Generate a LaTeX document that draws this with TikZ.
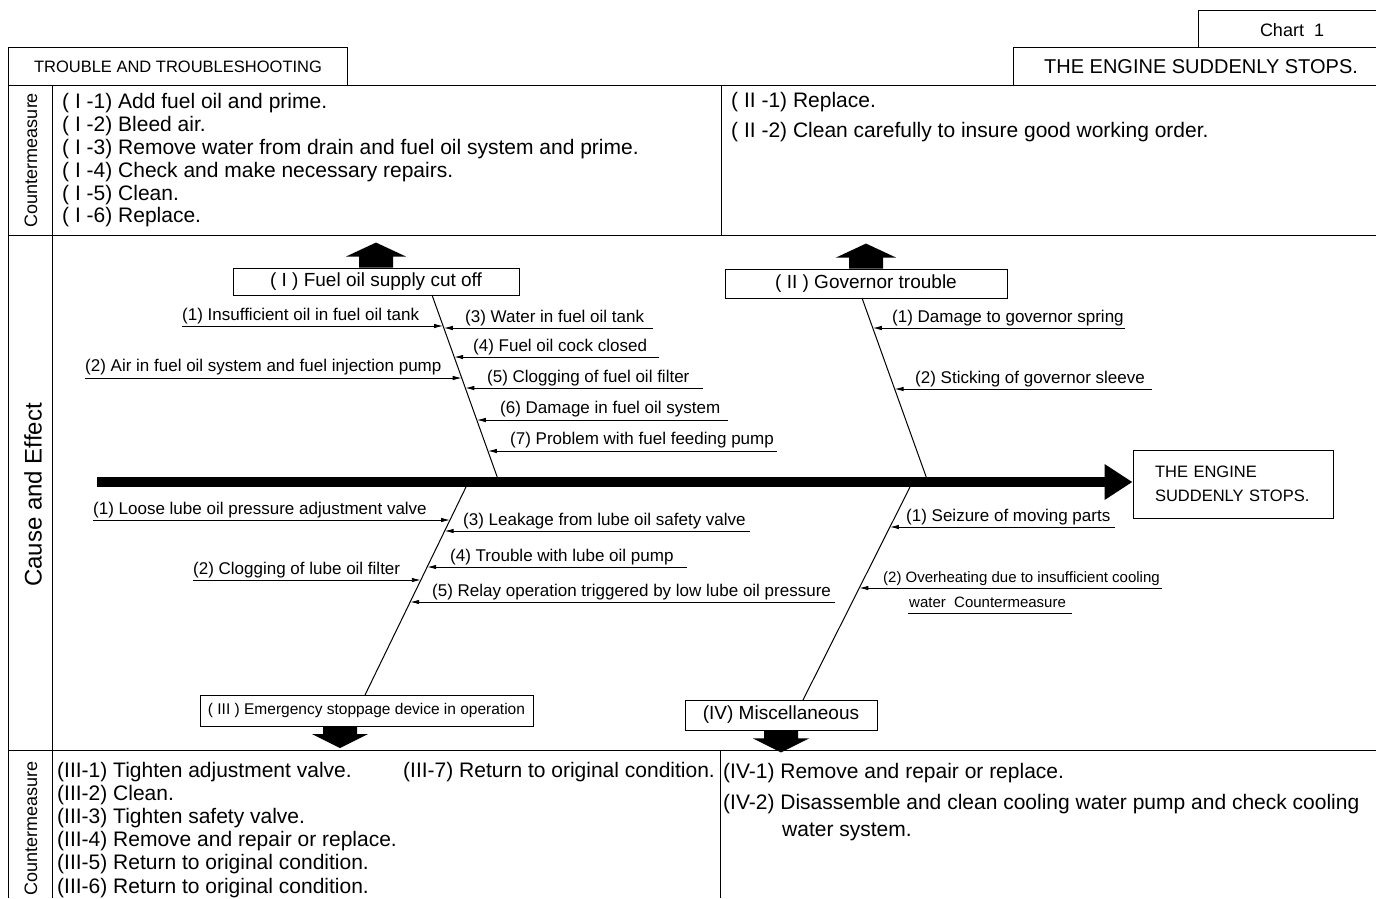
\documentclass[tikz,border=0pt]{standalone}
\usepackage{fontspec}
\setmainfont{Liberation Sans}
\usetikzlibrary{arrows.meta,calc}

\begin{document}
\begin{tikzpicture}[
    x=1pt, y=-1pt,
    >={Latex[length=9pt,width=4.5pt]},
    frame/.style={line width=1pt},
    tab/.style={inner sep=0pt, font=\fontsize{17}{20}\selectfont},
    side/.style={rotate=90, inner sep=0pt},
    measure/.style={
      anchor=base west,
      inner sep=0pt,
      font=\fontsize{21}{23}\selectfont
    },
    group/.style={
      draw,
      line width=0.9pt,
      inner sep=0pt,
      font=\fontsize{19}{22}\selectfont
    },
    cause/.style={
      anchor=base west,
      inner sep=0pt,
      font=\fontsize{17}{19}\selectfont
    },
    bone/.style={line width=1pt},
    twig/.style={->, line width=0.9pt},
    spine/.style={-{Triangle[length=28pt,width=34pt]}, line width=10pt}
  ]

  \useasboundingbox (0,0) rectangle (1376,898);
  \fill[white] (0,0) rectangle (1376,898);

  % ========== Frame ==========
  \draw[frame] (8,898) -- (8,47) -- (347,47) -- (347,85);
  \draw[frame] (1013,85) -- (1013,47) -- (1376,47);
  \draw[frame] (1198,47) -- (1198,10) -- (1376,10);
  \draw[frame] (8,85) -- (1376,85);
  \draw[frame] (8,235) -- (1376,235);
  \draw[frame] (8,750) -- (1376,750);
  \draw[frame] (52,85) -- (52,898);
  \draw[frame] (721,85) -- (721,235);
  \draw[frame] (720,750) -- (720,898);

  \node[tab,font=\fontsize{18}{20}\selectfont] (chart) at (1292,30) {Chart\ \ 1};
  \node[tab,font=\fontsize{16.5}{20}\selectfont] (title) at (178,67)
    {TROUBLE AND TROUBLESHOOTING};
  \node[tab,font=\fontsize{20}{22}\selectfont] (trouble) at (1201,67)
    {THE ENGINE SUDDENLY STOPS.};

  \node[side,font=\fontsize{18}{20}\selectfont] (cmtop) at (31,160) {Countermeasure};
  \node[side,font=\fontsize{24}{26}\selectfont] (ce) at (33,495) {Cause and Effect};
  \node[side,font=\fontsize{18}{20}\selectfont] (cmbot) at (31,828) {Countermeasure};

  % ========== Countermeasure (top) ==========
  \node[measure] (m11) at (62,108) {( I -1) Add fuel oil and prime.};
  \node[measure] (m12) at (62,131) {( I -2) Bleed air.};
  \node[measure] (m13) at (62,154) {( I -3) Remove water from drain and fuel oil system and prime.};
  \node[measure] (m14) at (62,177) {( I -4) Check and make necessary repairs.};
  \node[measure] (m15) at (62,200) {( I -5) Clean.};
  \node[measure] (m16) at (62,222) {( I -6) Replace.};

  \node[measure] (m21) at (731,107) {( II -1) Replace.};
  \node[measure] (m22) at (731,137) {( II -2) Clean carefully to insure good working order.};

  % ========== Cause and Effect ==========
  \node[group,minimum width=286pt,minimum height=27pt] (gI) at (376,281.5)
    {( I ) Fuel oil supply cut off};
  \node[group,minimum width=282pt,minimum height=29pt] (gII) at (866,283.5)
    {( II ) Governor trouble};
  \node[group,minimum width=333pt,minimum height=31pt,
    font=\fontsize{15.5}{18}\selectfont] (gIII) at (366.5,710.5)
    {( III ) Emergency stoppage device in operation};
  \node[group,minimum width=192pt,minimum height=30pt] (gIV) at (781,715)
    {(IV) Miscellaneous};

  \node[draw,line width=1pt,minimum width=200pt,minimum height=68pt,
    text width=156pt,inner xsep=22pt,align=left,
    font=\fontsize{16.5}{24}\selectfont] (eff) at (1233,484)
    {THE ENGINE\\SUDDENLY STOPS.};

  % block arrows
  \coordinate (aIII) at (340,726);
  \fill (gI.north) ++(-17,0) -- ++(0,-11) -- ++(-13,0) -- ++(30,-14)
    -- ++(30,14) -- ++(-13,0) -- ++(0,11) -- cycle;
  \fill (gII.north) ++(-17,0) -- ++(0,-11) -- ++(-13,0) -- ++(30,-14)
    -- ++(30,14) -- ++(-13,0) -- ++(0,11) -- cycle;
  \fill (aIII) ++(-17,0) -- ++(0,8) -- ++(-11,0) -- ++(28,14)
    -- ++(28,-14) -- ++(-11,0) -- ++(0,-8) -- cycle;
  \fill (gIV.south) ++(-17,0) -- ++(0,8) -- ++(-11,0) -- ++(28,14)
    -- ++(28,-14) -- ++(-11,0) -- ++(0,-8) -- cycle;

  % spine
  \coordinate (tail) at (97,482);
  \draw[spine] (tail) -- (tail -| eff.west);

  % bones
  \coordinate (bIa) at (432,295);
  \coordinate (bIb) at (499,482);
  \coordinate (bIIa) at (862,298);
  \coordinate (bIIb) at (928,482);
  \coordinate (bIIIa) at (466,487);
  \coordinate (bIIIb) at (365,695);
  \coordinate (bIVa) at (910,487);
  \coordinate (bIVb) at (803,700);
  \draw[bone] (bIa) -- (bIb);
  \draw[bone] (bIIa) -- (bIIb);
  \draw[bone] (bIIIa) -- (bIIIb);
  \draw[bone] (bIVa) -- (bIVb);

  % group I
  \coordinate (sI1) at (182,326);  \coordinate (eI1) at (443.1,326);
  \coordinate (sI2) at (85,378);   \coordinate (eI2) at (461.7,378);
  \coordinate (sI3) at (653,328);  \coordinate (eI3) at (443.8,328);
  \coordinate (sI4) at (659,357);  \coordinate (eI4) at (454.2,357);
  \coordinate (sI5) at (703,388);  \coordinate (eI5) at (465.3,388);
  \coordinate (sI6) at (728,420);  \coordinate (eI6) at (476.8,420);
  \coordinate (sI7) at (777,451);  \coordinate (eI7) at (487.9,451);
  \draw[twig] (sI1) -- (eI1);
  \draw[twig] (sI2) -- (eI2);
  \draw[twig] (sI3) -- (eI3);
  \draw[twig] (sI4) -- (eI4);
  \draw[twig] (sI5) -- (eI5);
  \draw[twig] (sI6) -- (eI6);
  \draw[twig] (sI7) -- (eI7);
  \node[cause] (tI1) at (182,320) {(1) Insufficient oil in fuel oil tank};
  \node[cause] (tI2) at (85,371) {(2) Air in fuel oil system and fuel injection pump};
  \node[cause] (tI3) at (465,322) {(3) Water in fuel oil tank};
  \node[cause] (tI4) at (473,351) {(4) Fuel oil cock closed};
  \node[cause] (tI5) at (487,382) {(5) Clogging of fuel oil filter};
  \node[cause] (tI6) at (500,413) {(6) Damage in fuel oil system};
  \node[cause] (tI7) at (510,444) {(7) Problem with fuel feeding pump};

  % group II
  \coordinate (sII1) at (1125,328); \coordinate (eII1) at (872.8,328);
  \coordinate (sII2) at (1152,389); \coordinate (eII2) at (894.6,389);
  \draw[twig] (sII1) -- (eII1);
  \draw[twig] (sII2) -- (eII2);
  \node[cause] (tII1) at (892,322) {(1) Damage to governor spring};
  \node[cause] (tII2) at (915,383) {(2) Sticking of governor sleeve};

  % group III
  \coordinate (sIII1) at (93,520);  \coordinate (eIII1) at (450,520);
  \coordinate (sIII2) at (193,580); \coordinate (eIII2) at (420.8,580);
  \coordinate (sIII3) at (750,531); \coordinate (eIII3) at (444.6,531);
  \coordinate (sIII4) at (687,567); \coordinate (eIII4) at (427.2,567);
  \coordinate (sIII5) at (835,602); \coordinate (eIII5) at (410.2,602);
  \draw[twig] (sIII1) -- (eIII1);
  \draw[twig] (sIII2) -- (eIII2);
  \draw[twig] (sIII3) -- (eIII3);
  \draw[twig] (sIII4) -- (eIII4);
  \draw[twig] (sIII5) -- (eIII5);
  \node[cause] (tIII1) at (93,514) {(1) Loose lube oil pressure adjustment valve};
  \node[cause] (tIII2) at (193,574) {(2) Clogging of lube oil filter};
  \node[cause] (tIII3) at (463,525) {(3) Leakage from lube oil safety valve};
  \node[cause] (tIII4) at (450,561) {(4) Trouble with lube oil pump};
  \node[cause] (tIII5) at (432,596) {(5) Relay operation triggered by low lube oil pressure};

  % group IV
  \coordinate (sIV1) at (1115,527); \coordinate (eIV1) at (889.9,527);
  \coordinate (sIV2) at (1162,588); \coordinate (eIV2) at (859.3,588);
  \coordinate (uIVa) at (908,613);  \coordinate (uIVb) at (1072,613);
  \draw[twig] (sIV1) -- (eIV1);
  \draw[twig] (sIV2) -- (eIV2);
  \draw[line width=0.9pt] (uIVa) -- (uIVb);
  \node[cause] (tIV1) at (906,521) {(1) Seizure of moving parts};
  \node[cause,font=\fontsize{15}{18}\selectfont] (tIV2) at (883,582)
    {(2) Overheating due to insufficient cooling};
  \node[cause,font=\fontsize{15}{18}\selectfont] (tIV3) at (909,607)
    {water\ \ Countermeasure};

  % ========== Countermeasure (bottom) ==========
  \node[measure] (m31) at (57,777) {(III-1) Tighten adjustment valve.};
  \node[measure] (m37) at (403,777) {(III-7) Return to original condition.};
  \node[measure] (m32) at (57,800) {(III-2) Clean.};
  \node[measure] (m33) at (57,823) {(III-3) Tighten safety valve.};
  \node[measure] (m34) at (57,846) {(III-4) Remove and repair or replace.};
  \node[measure] (m35) at (57,869) {(III-5) Return to original condition.};
  \node[measure] (m36) at (57,893) {(III-6) Return to original condition.};

  \node[measure] (m41) at (723,778) {(IV-1) Remove and repair or replace.};
  \node[measure] (m42) at (723,809) {(IV-2) Disassemble and clean cooling water pump and check cooling};
  \node[measure] (m43) at (782,836) {water system.};
\end{tikzpicture}
\end{document}
